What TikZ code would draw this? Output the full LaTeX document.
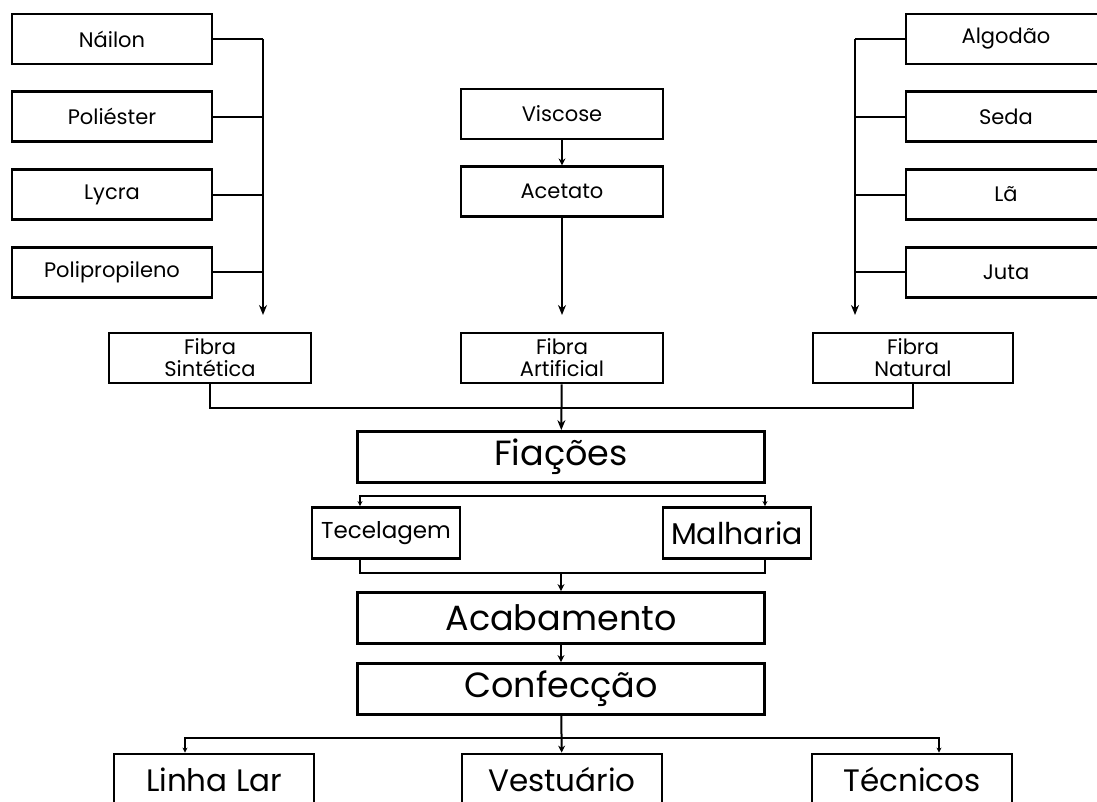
\documentclass[tikz,border=0pt]{standalone}
\usepackage{fontspec}
\setmainfont{Poppins}
\usepackage{tikz}
\usetikzlibrary{arrows.meta,positioning}
\tikzset{%
  fibre/.style={draw,line width=2.8pt,minimum width=200pt,minimum height=50pt,
    inner sep=0pt,align=center,font=\fontsize{21}{22}\selectfont},
  fibrebig/.style={fibre,minimum width=202pt},
  stage/.style={draw,line width=2.8pt,minimum width=407pt,minimum height=51pt,
    inner sep=0pt,font=\fontsize{35}{38}\selectfont},
  substage/.style={draw,line width=2.8pt,minimum width=148pt,minimum height=51pt,
    inner sep=0pt,font=\fontsize{30}{32}\selectfont},
  product/.style={draw,line width=2.8pt,minimum width=200pt,minimum height=52pt,
    inner sep=0pt,font=\fontsize{31}{34}\selectfont},
  link/.style={line width=2pt},
  flow/.style={link,-{Stealth[length=10pt,width=8pt]}},
  smallflow/.style={link,-{Stealth[length=7pt,width=7pt]}},
  twoflow/.style={line width=1.6pt,{Stealth[length=5pt,width=5pt]}-{Stealth[length=5pt,width=5pt]}}
}
\begin{document}
\begin{tikzpicture}[x=1pt,y=-1pt,node distance=25pt]
  \useasboundingbox (0,0) rectangle (1097,802);
  \clip (0,0) rectangle (1097,802);
  % sintéticas
  \node[fibre] (nailon) at (112,39) {Náilon};
  \node[fibre, below=of nailon] (poliester) {Poliéster};
  \node[fibre, below=of poliester] (lycra) {Lycra};
  \node[fibre, below=of lycra] (poliprop) {Polipropileno};
  % naturais
  \node[fibre] (algodao) at (1006,39) {Algodão};
  \node[fibre, below=of algodao] (seda) {Seda};
  \node[fibre, below=of seda] (la) {Lã};
  \node[fibre, below=of la] (juta) {Juta};
  % artificiais
  \node[fibrebig] (viscose) at (562,114) {Viscose};
  \node[fibrebig, below=of viscose] (acetato) {Acetato};
  % tipos de fibra
  \node[fibrebig] (fsint) at (210,358) {Fibra\\Sintética};
  \node[fibrebig] (fart) at (562,358) {Fibra\\Artificial};
  \node[fibre] (fnat) at (913,358) {Fibra\\Natural};
  % processo
  \node[stage] (fiacoes) at (561,457) {Fiações};
  \node[substage, font=\fontsize{23}{26}\selectfont] (tecel) at (386,533) {Tecelagem};
  \node[substage] (malha) at (737,533) {Malharia};
  \node[stage] (acab) at (561,618) {Acabamento};
  \node[stage] (confec) at (561,689) {Confecção};
  \node[product] (linha) at (214,780) {Linha Lar};
  \node[product] (vest) at (562,780) {Vestuário};
  \node[product] (tecn) at (912,780) {Técnicos};
  % pontos de junção
  \coordinate (sjoin) at (263,315);
  \coordinate (njoin) at (855,315);
  \coordinate (ajoin) at (562,315);
  \coordinate (fjoin) at (562,408);
  \coordinate (tl) at (360,496);
  \coordinate (tr) at (765,496);
  \coordinate (bl) at (360,573);
  \coordinate (br) at (765,573);
  \coordinate (pl) at (185,738);
  \coordinate (pr) at (939,738);
  \foreach \n in {nailon,poliester,lycra,poliprop}
    \draw[link] (\n.east) -- (\n.east -| sjoin);
  \foreach \n in {algodao,seda,la,juta}
    \draw[link] (\n.west) -- (\n.west -| njoin);
  \draw[flow] (nailon.east -| sjoin) -- (sjoin);
  \draw[flow] (algodao.west -| njoin) -- (njoin);
  \draw[smallflow] (viscose) -- (acetato);
  \draw[flow] (acetato) -- (ajoin);
  \draw[link] (fsint.south) |- (fjoin) -| (fnat.south);
  \draw[flow] (fart) -- (fiacoes);
  \draw[twoflow] (tl |- tecel.north) -- (tl) -- (tr) -- (tr |- malha.north);
  \draw[line width=1.6pt] (bl |- tecel.south) -- (bl) -- (br) -- (br |- malha.south);
  \draw[smallflow] (bl -| acab.north) -- (acab.north);
  \draw[smallflow] (acab) -- (confec);
  \draw[smallflow] (confec) -- (vest);
  \draw[twoflow] (pl |- linha.north) -- (pl) -- (pr) -- (pr |- tecn.north);
\end{tikzpicture}
\end{document}
